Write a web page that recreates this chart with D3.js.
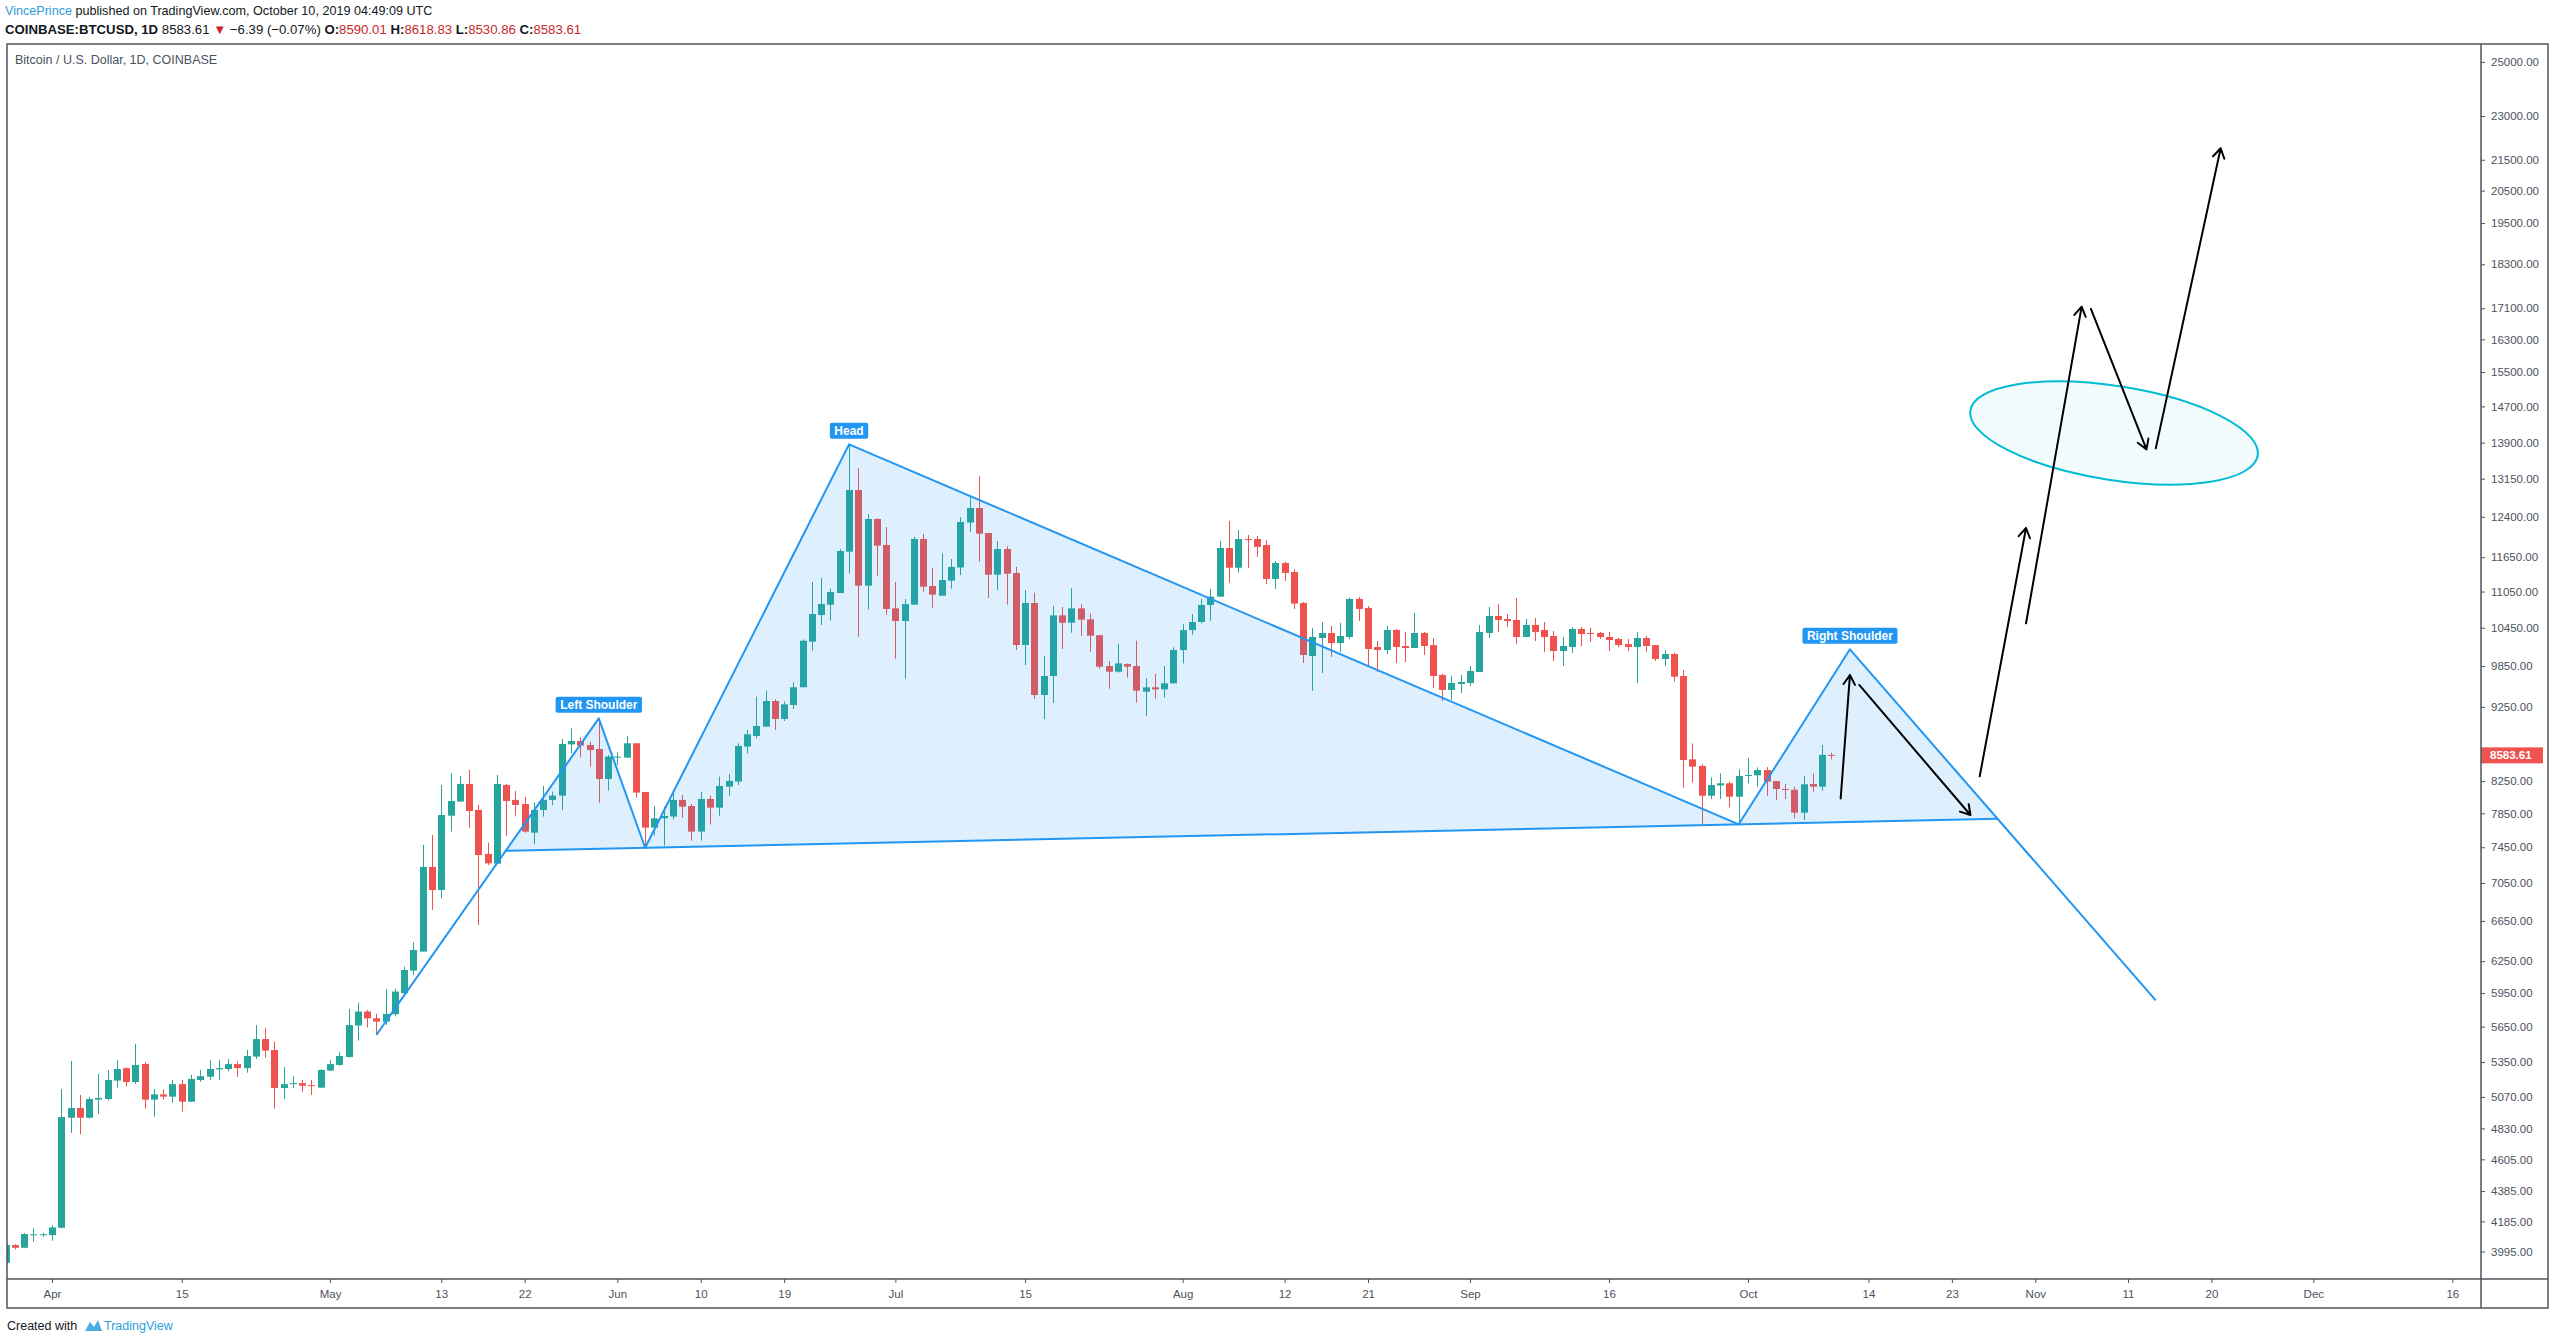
<!DOCTYPE html>
<html>
<head>
<meta charset="utf-8">
<title>BTCUSD 1D - head and shoulders</title>
<script src="https://cdn.jsdelivr.net/npm/d3@7"></script>
<style>
  body { margin: 0; background: #fff; }
  svg { display: block; }
  text { font-family: "Liberation Sans", Arial, sans-serif; }
</style>
</head>
<body>
<svg width="2555" height="1344"></svg>
<script>
// daily candles, Coinbase BTCUSD, first one is 2019-03-27
var firstDay = "2019-03-27";

var opens = [
  3926, 4035, 4018, 4100, 4100,
  4097, 4144, 4910, 4984, 4910, 5049, 5054, 5199, 5300, 5188, 5334, 5049, 5090, 5072, 5171, 5033, 5204, 5230, 5290, 5293, 5333, 5300, 5395, 5543, 5450, 5140, 5171, 5179, 5163, 5143,
  5280, 5326, 5392, 5660, 5783, 5723, 5694, 5759, 5949, 6160, 6343, 7227, 6975, 7822, 7993, 8214, 7891, 7373, 7264, 8201, 8014, 7964, 7620, 7891, 8014, 8067, 8731, 8776, 8722, 8668, 8277,
  8558, 8554, 8745, 8113, 7679, 7790, 7811, 8014, 7939, 7632, 8026, 7919, 8180, 8244, 8701, 8844, 8972, 9334, 9079, 9277, 9534, 10228, 10657, 10828, 11025, 11750, 12922, 11150, 12357, 11872,
  10767, 10559, 10828, 11981, 11144, 10979, 11236, 11467, 12290, 12568, 12094, 11340, 11798, 11370, 10176, 10856, 9421, 9701, 10651, 10532, 10767, 10586, 10330, 9851, 9765, 9881, 9851, 9469, 9533, 9503, 9592,
  10097, 10412, 10543, 10824, 10963, 11817, 11463, 11981, 11982, 11872, 11266, 11547, 11388, 10857, 10004, 10286, 10366, 10206, 10302, 10924, 10773, 10144, 10097, 10414, 10160, 10128, 10366, 10174, 9716, 9494, 9582,
  9597, 9761, 10366, 10641, 10592, 10576, 10302, 10495, 10414, 10318, 10082, 10144, 10430, 10366, 10366, 10302, 10270, 10190, 10144, 10286, 10174, 9958, 10035, 9700, 8531, 8445, 8066, 8195, 8222, 8054,
  8315, 8324, 8392, 8250, 8150, 8141, 7858, 8213, 8179, 8590.01
];
var highs = [
  4040, 4040, 4110, 4140, 4112,
  4162, 5130, 5358, 5085, 5070, 5252, 5285, 5367, 5305, 5503, 5350, 5132, 5130, 5204, 5204, 5245, 5285, 5367, 5367, 5375, 5355, 5450, 5664, 5637, 5522, 5309, 5235, 5204, 5204, 5293,
  5367, 5432, 5805, 5863, 5797, 5762, 5985, 5990, 6198, 6435, 7477, 7593, 8201, 8350, 8316, 8393, 7952, 7503, 8328, 8214, 8125, 8051, 7985, 8188, 8117, 8803, 8949, 8827, 8767, 9088, 8588,
  8625, 8844, 8745, 8113, 7939, 7931, 8117, 8075, 7964, 8117, 8067, 8307, 8341, 8745, 8927, 9397, 9484, 9359, 9325, 9607, 10264, 11214, 11283, 11099, 11798, 13864, 13361, 12453, 12376, 12205,
  11214, 10923, 12024, 12075, 11457, 11720, 11618, 12395, 12802, 13203, 12094, 11944, 11852, 11478, 11076, 11030, 10005, 10805, 10790, 11105, 10838, 10684, 10330, 9928, 10193, 9891, 10243, 9666, 9731, 9851, 10139,
  10509, 10673, 10923, 11094, 11944, 12318, 12149, 12056, 12037, 11964, 11583, 11565, 11440, 10873, 10446, 10543, 10479, 10527, 10946, 10957, 10806, 10238, 10479, 10430, 10382, 10690, 10382, 10286, 9731, 9701, 9716,
  9851, 10495, 10790, 10840, 10674, 10940, 10592, 10608, 10543, 10398, 10302, 10463, 10463, 10446, 10382, 10382, 10286, 10270, 10382, 10318, 10174, 10097, 10057, 9790, 8743, 8470, 8297, 8349, 8243, 8401,
  8552, 8425, 8429, 8250, 8213, 8179, 8315, 8349, 8722, 8618.83
];
var lows = [
  3920, 4008, 4015, 4056, 4085,
  4062, 4140, 4797, 4787, 4905, 4938, 5041, 5143, 5152, 5172, 4979, 4918, 5049, 5026, 4956, 5033, 5190, 5204, 5204, 5275, 5228, 5263, 5375, 5386, 4979, 5054, 5140, 5111, 5085, 5140,
  5275, 5320, 5386, 5530, 5642, 5578, 5665, 5740, 5918, 6118, 6343, 6764, 6886, 7632, 7993, 7679, 6609, 7249, 7264, 7580, 7822, 7620, 7484, 7811, 7952, 7891, 8611, 8558, 8436, 7980, 8130,
  8457, 8554, 8042, 7449, 7585, 7469, 7779, 7798, 7526, 7526, 7719, 7822, 8067, 8201, 8611, 8813, 8972, 8927, 9051, 9220, 9534, 10087, 10495, 10565, 11020, 11364, 10307, 10751, 11324, 10663,
  9964, 9661, 10828, 11047, 10779, 10979, 11099, 11334, 12118, 11570, 10941, 11076, 10828, 10097, 9866, 9363, 9079, 9305, 10114, 10371, 10320, 10072, 9810, 9513, 9750, 9676, 9311, 9125, 9367, 9382, 9592,
  9891, 10339, 10521, 10565, 10963, 11202, 11376, 11458, 11655, 11179, 11093, 11231, 10756, 9897, 9479, 9746, 9989, 10066, 10270, 10560, 9851, 9761, 10035, 9897, 9912, 10128, 10020, 9523, 9334, 9349, 9450,
  9552, 9761, 10286, 10382, 10463, 10190, 10302, 10238, 10066, 9928, 9851, 10051, 10160, 10222, 10270, 10082, 10144, 10082, 9597, 10066, 9928, 9851, 9616, 8166, 8230, 7721, 8024, 8024, 7923, 7721,
  8222, 8179, 8066, 8013, 8024, 7789, 7770, 8116, 8129, 8530.86
];
var closes = [
  4035, 4018, 4104, 4102, 4103,
  4146, 4915, 4984, 4910, 5054, 5062, 5204, 5293, 5188, 5326, 5049, 5090, 5072, 5171, 5033, 5212, 5235, 5293, 5300, 5333, 5300, 5400, 5543, 5445, 5140, 5171, 5179, 5158, 5155, 5285,
  5333, 5400, 5664, 5783, 5723, 5694, 5762, 5964, 6166, 6359, 7227, 6975, 7830, 8001, 8214, 7878, 7361, 7268, 8214, 8001, 7952, 7632, 7891, 8014, 8067, 8736, 8776, 8714, 8655, 8277, 8567,
  8567, 8745, 8105, 7679, 7790, 7818, 8014, 7931, 7632, 8026, 7919, 8188, 8252, 8709, 8867, 8981, 9334, 9079, 9286, 9534, 10243, 10673, 10838, 11041, 11762, 12922, 11150, 12357, 11860, 10757,
  10559, 10838, 11981, 11132, 10997, 11248, 11477, 12301, 12568, 12081, 11340, 11798, 11358, 10176, 10856, 9421, 9701, 10651, 10532, 10767, 10581, 10323, 9841, 9765, 9891, 9841, 9484, 9533, 9503, 9592, 10097,
  10412, 10543, 10824, 10963, 11817, 11463, 11981, 11964, 11836, 11266, 11547, 11371, 10846, 10020, 10302, 10366, 10206, 10318, 10924, 10756, 10113, 10097, 10414, 10144, 10128, 10366, 10160, 9701, 9494, 9597, 9612,
  9776, 10382, 10641, 10576, 10560, 10302, 10495, 10382, 10302, 10082, 10160, 10430, 10350, 10350, 10302, 10254, 10174, 10144, 10286, 10160, 9958, 10035, 9690, 8522, 8436, 8066, 8200, 8222, 8054, 8315,
  8328, 8392, 8243, 8150, 8141, 7858, 8209, 8179, 8590.01, 8583.61
];
var lastPrice = 8583.61;

var priceTicks = [25000, 23000, 21500, 20500, 19500, 18300, 17100, 16300, 15500, 14700, 13900, 13150,
  12400, 11650, 11050, 10450, 9850, 9250, 8250, 7850, 7450, 7050, 6650, 6250, 5950, 5650, 5350,
  5070, 4830, 4605, 4385, 4185, 3995];
var timeTicks = ["2019-04-01", "2019-04-15", "2019-05-01", "2019-05-13", "2019-05-22", "2019-06-01",
  "2019-06-10", "2019-06-19", "2019-07-01", "2019-07-15", "2019-08-01", "2019-08-12", "2019-08-21",
  "2019-09-01", "2019-09-16", "2019-10-01", "2019-10-14", "2019-10-23", "2019-11-01", "2019-11-11",
  "2019-11-20", "2019-12-01", "2019-12-16"];

// head and shoulders drawing: start, LS, neck 1, head, neck 2, RS, end
var patternDates = ["2019-05-06", "2019-05-30", "2019-06-04", "2019-06-26", "2019-09-30", "2019-10-12", "2019-11-14"];
var patternPrices = [5578, 9088, 7444, 13864, 7718, 10108, 5883];
var patternLabels = ["", "Left Shoulder", "", "Head", "", "Right Shoulder", ""];

// hand drawn arrows [from date, from price, to date, to price]
var arrows = [
  ["2019-10-11", 8033, "2019-10-12", 9715],
  ["2019-10-13", 9568, "2019-10-25", 7830],
  ["2019-10-26", 8310, "2019-10-31", 12187],
  ["2019-10-31", 10522, "2019-11-06", 17142],
  ["2019-11-07", 17082, "2019-11-13", 13757],
  ["2019-11-14", 13779, "2019-11-21", 21882]
];
// target ellipse, ends of its long axis
var ellipseDates = ["2019-10-25", "2019-11-25"];
var ellipsePrices = [14608, 13628];

var svg = d3.select("svg"),
    width = +svg.attr("width"),
    height = +svg.attr("height");

var frame = {left: 7, top: 44, right: 2548, bottom: 1308};
var pane = {left: 7, top: 44, right: 2481, bottom: 1279};

var up = "#26a69a", down = "#ef5350", blue = "#2196f3", ink = "#131722", axisInk = "#4c525e";

var parseDay = d3.utcParse("%Y-%m-%d");
var start = parseDay(firstDay);
var candles = closes.map(function (c, i) {
  return {date: d3.utcDay.offset(start, i), o: opens[i], h: highs[i], l: lows[i], c: c};
});

var x = d3.scaleUtc()
    .domain([parseDay("2019-04-01"), parseDay("2019-10-01")])
    .range([52, 1748]);
var y = d3.scaleLog()
    .domain([3995, 25000])
    .range([1251.5, 61.9]);

svg.append("rect").attr("width", width).attr("height", height).attr("fill", "#fff");

svg.append("defs").append("clipPath").attr("id", "pane")
  .append("rect")
    .attr("x", pane.left).attr("y", pane.top)
    .attr("width", pane.right - pane.left).attr("height", pane.bottom - pane.top);

var plot = svg.append("g").attr("clip-path", "url(#pane)");

// candles
var bodyW = 7;
var candle = plot.append("g").selectAll("g")
    .data(candles)
    .enter().append("g")
    .attr("fill", function (d) { return d.c >= d.o ? up : down; });

candle.append("rect")
    .attr("x", function (d) { return Math.round(x(d.date)); })
    .attr("width", 1)
    .attr("y", function (d) { return y(d.h); })
    .attr("height", function (d) { return Math.max(1, y(d.l) - y(d.h)); });

candle.append("rect")
    .attr("x", function (d) { return Math.round(x(d.date)) - 3; })
    .attr("width", bodyW)
    .attr("y", function (d) { return y(Math.max(d.o, d.c)); })
    .attr("height", function (d) { return Math.max(1, Math.abs(y(d.o) - y(d.c))); });

// pattern
var pts = patternDates.map(function (d, i) {
  return {x: x(parseDay(d)), y: y(patternPrices[i]), label: patternLabels[i]};
});

function cross(a, b, c, d) {
  var den = (a.x - b.x) * (c.y - d.y) - (a.y - b.y) * (c.x - d.x);
  var t = ((a.x - c.x) * (c.y - d.y) - (a.y - c.y) * (c.x - d.x)) / den;
  return {x: a.x + t * (b.x - a.x), y: a.y + t * (b.y - a.y)};
}
var neckL = cross(pts[0], pts[1], pts[2], pts[4]);
var neckR = cross(pts[5], pts[6], pts[2], pts[4]);

var line = d3.line().x(function (d) { return d.x; }).y(function (d) { return d.y; });

var shape = plot.append("g");
shape.append("path")
    .attr("d", line([neckL, pts[1], pts[2], pts[3], pts[4], pts[5], neckR]) + "Z")
    .attr("fill", "rgba(33,150,243,0.15)");
shape.append("path")
    .attr("d", line(pts))
    .attr("fill", "none").attr("stroke", blue).attr("stroke-width", 2)
    .attr("stroke-linejoin", "round");
shape.append("path")
    .attr("d", line([neckL, neckR]))
    .attr("fill", "none").attr("stroke", blue).attr("stroke-width", 2);

var tags = shape.selectAll(".tag")
    .data(pts.filter(function (p) { return p.label; }))
    .enter().append("g")
    .attr("class", "tag");
tags.append("rect").attr("rx", 2).attr("fill", blue);
tags.append("text")
    .attr("x", function (d) { return d.x; })
    .attr("y", function (d) { return d.y - 9.5; })
    .attr("text-anchor", "middle")
    .attr("font-size", 12).attr("font-weight", "bold").attr("fill", "#fff")
    .text(function (d) { return d.label; });
tags.each(function (d) {
  var g = d3.select(this);
  var w = g.select("text").node().getComputedTextLength() + 9;
  g.select("rect").attr("x", d.x - w / 2).attr("y", d.y - 21.5).attr("width", w).attr("height", 16);
});

// ellipse
var e1 = {x: x(parseDay(ellipseDates[0])), y: y(ellipsePrices[0])},
    e2 = {x: x(parseDay(ellipseDates[1])), y: y(ellipsePrices[1])};
var ecx = (e1.x + e2.x) / 2, ecy = (e1.y + e2.y) / 2;
var erx = Math.hypot(e2.x - e1.x, e2.y - e1.y) / 2;
var eang = Math.atan2(e2.y - e1.y, e2.x - e1.x) * 180 / Math.PI;
plot.append("ellipse")
    .attr("cx", ecx).attr("cy", ecy).attr("rx", erx).attr("ry", 47)
    .attr("transform", "rotate(" + eang + "," + ecx + "," + ecy + ")")
    .attr("fill", "rgba(0,188,212,0.05)")
    .attr("stroke", "#00bcd4").attr("stroke-width", 2);

// arrows
function head(x1, y1, x2, y2) {
  var a = Math.atan2(y2 - y1, x2 - x1), len = 11, s = 0.55;
  return "M" + (x2 - len * Math.cos(a - s)) + "," + (y2 - len * Math.sin(a - s)) +
         "L" + x2 + "," + y2 +
         "L" + (x2 - len * Math.cos(a + s)) + "," + (y2 - len * Math.sin(a + s));
}
plot.append("g").selectAll("path")
    .data(arrows)
    .enter().append("path")
    .attr("fill", "none").attr("stroke", "#000").attr("stroke-width", 2)
    .attr("stroke-linecap", "round").attr("stroke-linejoin", "round")
    .attr("d", function (a) {
      var x1 = x(parseDay(a[0])), y1 = y(a[1]), x2 = x(parseDay(a[2])), y2 = y(a[3]);
      return "M" + x1 + "," + y1 + "L" + x2 + "," + y2 + head(x1, y1, x2, y2);
    });

// axes
var timeAxis = svg.append("g")
    .attr("transform", "translate(0," + pane.bottom + ")")
    .call(d3.axisBottom(x)
      .tickValues(timeTicks.map(parseDay))
      .tickSize(4)
      .tickFormat(function (d) {
        return d.getUTCDate() === 1 ? d3.utcFormat("%b")(d) : d3.utcFormat("%-d")(d);
      }));
timeAxis.select(".domain").remove();
timeAxis.selectAll("line").attr("stroke", axisInk);
timeAxis.selectAll("text").attr("y", 11).attr("fill", axisInk)
    .attr("font-size", 11.5).attr("font-family", "Liberation Sans, Arial, sans-serif");

var priceAxis = svg.append("g")
    .attr("transform", "translate(" + pane.right + ",0)")
    .call(d3.axisRight(y)
      .tickValues(priceTicks)
      .tickSize(4)
      .tickFormat(d3.format(".2f")));
priceAxis.select(".domain").remove();
priceAxis.selectAll("line").attr("stroke", axisInk);
priceAxis.selectAll("text").attr("x", 10).attr("fill", axisInk)
    .attr("font-size", 11.5).attr("font-family", "Liberation Sans, Arial, sans-serif");

// last price tag
var lp = svg.append("g").attr("transform", "translate(" + pane.right + "," + y(lastPrice) + ")");
lp.append("rect").attr("x", 0).attr("y", -8).attr("width", 62).attr("height", 16).attr("fill", down);
lp.append("text").attr("x", 9).attr("dy", "0.35em")
    .attr("font-size", 11.5).attr("font-weight", "bold").attr("fill", "#fff")
    .text(d3.format(".2f")(lastPrice));

// frame
var border = svg.append("g").attr("fill", "none").attr("stroke", "#50535e").attr("stroke-width", 1.5);
border.append("rect")
    .attr("x", frame.left).attr("y", frame.top)
    .attr("width", frame.right - frame.left).attr("height", frame.bottom - frame.top);
border.append("line")
    .attr("x1", pane.right).attr("x2", pane.right).attr("y1", frame.top).attr("y2", frame.bottom);
border.append("line")
    .attr("x1", frame.left).attr("x2", frame.right).attr("y1", pane.bottom).attr("y2", pane.bottom);

// header
var h1 = svg.append("text").attr("x", 5).attr("y", 15).attr("font-size", 12.6).attr("fill", ink);
h1.append("tspan").attr("fill", "#2e9ddb").text("VincePrince");
h1.append("tspan").text(" published on TradingView.com, October 10, 2019 04:49:09 UTC");

var red = "#c62828";
var h2 = svg.append("text").attr("x", 5).attr("y", 33.5).attr("font-size", 13.2).attr("fill", ink);
h2.append("tspan").attr("font-weight", "bold").text("COINBASE:BTCUSD, 1D");
h2.append("tspan").text("  8583.61 ");
h2.append("tspan").attr("fill", red).text("\u25BC");
h2.append("tspan").text(" \u22126.39 (\u22120.07%) ");
[["O:", "8590.01"], ["H:", "8618.83"], ["L:", "8530.86"], ["C:", "8583.61"]].forEach(function (p, i) {
  h2.append("tspan").attr("font-weight", "bold").text((i ? " " : "") + p[0]);
  h2.append("tspan").attr("fill", red).text(p[1]);
});

svg.append("text").attr("x", 15).attr("y", 64).attr("font-size", 12.5).attr("fill", axisInk)
    .text("Bitcoin / U.S. Dollar, 1D, COINBASE");

// footer
svg.append("text").attr("x", 7).attr("y", 1330).attr("font-size", 12.5).attr("fill", ink)
    .text("Created with");
svg.append("path")
    .attr("d", "M85,1331 L90,1322 L94,1327 L98,1320 L102,1331 Z")
    .attr("fill", "#2e9ddb").attr("opacity", 0.85);
svg.append("text").attr("x", 104).attr("y", 1330).attr("font-size", 12.5).attr("fill", "#2e9ddb")
    .text("TradingView");
</script>
</body>
</html>
